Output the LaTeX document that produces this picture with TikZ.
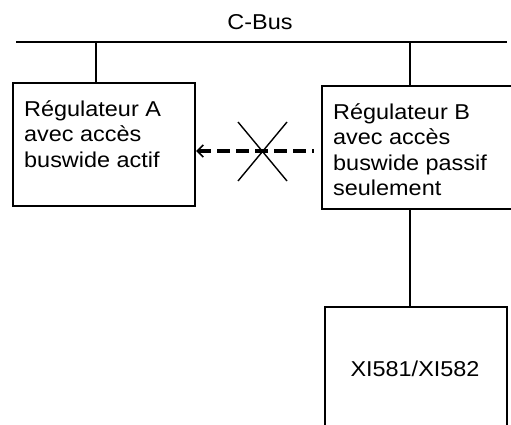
\documentclass[tikz,border=0pt]{standalone}
\usepackage{fontspec}
\setmainfont{Liberation Sans}[FakeStretch = 1.09]
\usetikzlibrary{arrows.meta}
\tikzset{
    blocco/.style = {draw, line width = 2.3pt, minimum width = 182pt, minimum height = 123pt, inner sep = 0pt},
    testo/.style = {align = left, inner sep = 0pt, font = \fontsize{21.5}{25.3}\selectfont},
    freccia/.style = {line width = 4pt, dash pattern = on 13pt off 6pt, {Straight Barb[length = 6pt, width = 12pt, line width = 1.6pt]}-},
}

\begin{document}
\begin{tikzpicture}[x = 1pt, y = -1pt]
    % Cornice
    \useasboundingbox (0,0) rectangle (511,425);
    \clip (0,0) rectangle (511,425);
    % C-Bus
    \coordinate (busL) at (16,42);
    \coordinate (busR) at (507,42);
    \draw[line width = 2.3pt] (busL) -- (busR);
    \node[testo, anchor = base] (cbus) at (260,30) {C-Bus};
    % Regolatori
    \node[blocco] (regA) at (104,144.5) {};
    \node[blocco, minimum width = 195pt] (regB) at (419.5,147.5) {};
    \node[blocco] (xi) at (416,368.5) {};
    \node[testo, anchor = north west] (tA) at (24,100.4) {Régulateur A\\avec accès\\buswide actif};
    \node[testo, anchor = north west] (tB) at (333,103.4) {Régulateur B\\avec accès\\buswide passif\\seulement};
    \node[testo, anchor = base] (tXI) at (415,376) {XI581/XI582};
    % Collegamenti
    \draw[line width = 2.3pt] ([xshift = -8pt]regA.north) -- ([xshift = -8pt]regA.north |- busL);
    \draw[line width = 2.3pt] ([xshift = -9.5pt]regB.north) -- ([xshift = -9.5pt]regB.north |- busL);
    \draw[line width = 2.3pt] ([xshift = -9.5pt]regB.south) -- ([xshift = -9.5pt]regB.south |- xi.north);
    % Accesso negato
    \coordinate (croce) at (262,151);
    \draw[freccia, shorten > = 7pt] (regA.east |- croce) -- (regB.west |- croce);
    \draw[line width = 1.4pt] ([shift = {(-24,-29)}]croce) -- ([shift = {(25,30)}]croce);
    \draw[line width = 1.4pt] ([shift = {(25,-29)}]croce) -- ([shift = {(-24,30)}]croce);
\end{tikzpicture}
\end{document}
